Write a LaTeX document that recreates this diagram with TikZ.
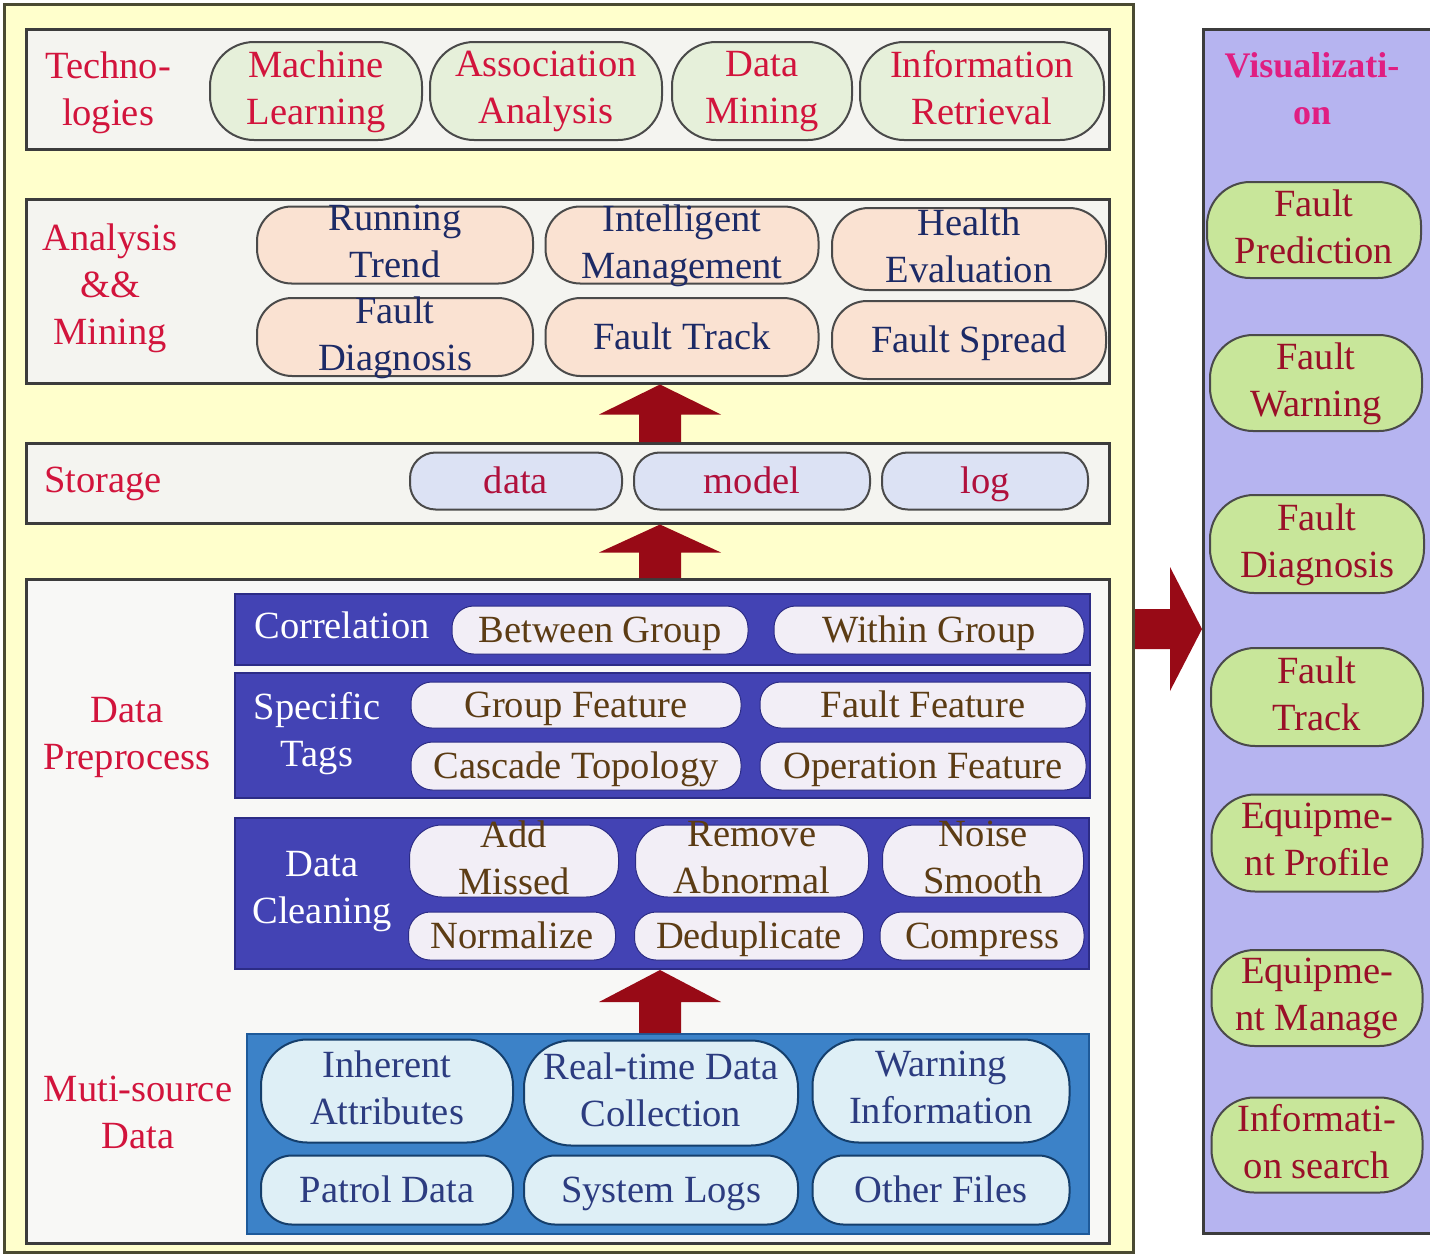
\documentclass[tikz,border=0pt]{standalone}
\usepackage{fontspec}
\setmainfont{Liberation Serif}
\usetikzlibrary{calc}
\definecolor{outerfill}{HTML}{FFFFCC}
\definecolor{outerline}{HTML}{4A4A32}
\definecolor{boxfill}{HTML}{F4F4F0}
\definecolor{boxline}{HTML}{3C3C3C}
\definecolor{nodeline}{HTML}{4A4A4A}
\definecolor{labred}{HTML}{D2143C}
\definecolor{techfill}{HTML}{E6F0DA}
\definecolor{analfill}{HTML}{FAE2D2}
\definecolor{analtext}{HTML}{1C2A66}
\definecolor{storfill}{HTML}{DCE2F4}
\definecolor{stortext}{HTML}{B0103C}
\definecolor{bandfill}{HTML}{4343B4}
\definecolor{bandline}{HTML}{2C2C86}
\definecolor{bnodefill}{HTML}{F2EEF6}
\definecolor{bnodetext}{HTML}{5C3C14}
\definecolor{multifill}{HTML}{3C82C8}
\definecolor{multiline}{HTML}{1E5A9A}
\definecolor{mnodefill}{HTML}{DEEFF6}
\definecolor{mnodetext}{HTML}{2C3C80}
\definecolor{visfill}{HTML}{B6B4F0}
\definecolor{vistitle}{HTML}{E01E82}
\definecolor{visnodefill}{HTML}{C8E69A}
\definecolor{visnodetext}{HTML}{9A1028}
\definecolor{arrowred}{HTML}{980A16}
% name, shape style, text style, x, y, w, h, text
\newcommand\pill[8]{%
  \node[#2, minimum width=#6, minimum height=#7, rounded corners={0.45*#7}] (#1) at (#4,#5) {};
  \node[#3] at (#1.center) {#8};}
% vertical block arrow: tip coordinate, base coordinate, head length
\newcommand\blockup[3]{%
  \fill[arrowred] (#1) -- ($(#1)+(61,#3)$) -- ($(#1)+(21,#3)$) -- ($(#2)+(21,0)$)
    -- ($(#2)+(-21,0)$) -- ($(#1)+(-21,#3)$) -- ($(#1)+(-61,#3)$) -- cycle;}
\tikzset{
  every node/.style={font=\fontsize{38.5}{47}\selectfont},
  box/.style={draw=boxline, line width=2.5pt, fill=boxfill, inner sep=0pt, anchor=north west},
  band/.style={draw=bandline, line width=2pt, fill=bandfill, inner sep=0pt, anchor=north west},
  mband/.style={draw=multiline, line width=2pt, fill=multifill, inner sep=0pt, anchor=north west},
  shp/.style={draw=nodeline, line width=2pt, inner sep=0pt},
  tech/.style={shp, fill=techfill},
  anal/.style={shp, fill=analfill},
  stor/.style={shp, fill=storfill},
  bnode/.style={draw=bandline, line width=1pt, fill=bnodefill, inner sep=0pt},
  mnode/.style={draw=multiline!70!black, line width=2pt, fill=mnodefill, inner sep=0pt},
  vnode/.style={shp, fill=visnodefill},
  txt/.style={align=center, inner sep=0pt, yshift=-3.5pt, execute at begin node=\strut, execute at end node=\strut},
  redtxt/.style={txt, text=labred},
  analtxt/.style={txt, text=analtext},
  stortxt/.style={txt, text=stortext},
  bandlab/.style={txt, text=white},
  btxt/.style={txt, text=bnodetext},
  mtxt/.style={txt, text=mnodetext},
  vtxt/.style={txt, text=visnodetext},
}
\begin{document}
\begin{tikzpicture}[x=1pt,y=-1pt]
\useasboundingbox (0,0) rectangle (1430,1254);
\fill[white] (0,0) rectangle (1430,1254);

% outer yellow frame
\node[draw=outerline, line width=3pt, fill=outerfill, inner sep=0pt, anchor=north west,
      minimum width=1129, minimum height=1248] (outer) at (3,3) {};

% ---------- Technologies ----------
\node[box, minimum width=1083, minimum height=120] (techbox) at (25,28) {};
\node[redtxt] (techlab) at (108,92) {Techno-\\logies};
\pill{ml}{tech}{redtxt}{316}{91}{212}{98}{Machine\\Learning}
\pill{aa}{tech}{redtxt}{546}{91}{232}{98}{Association\\Analysis}
\pill{dm}{tech}{redtxt}{762}{91}{180}{98}{Data\\Mining}
\pill{ir}{tech}{redtxt}{982}{91}{244}{98}{Information\\Retrieval}

% ---------- Analysis && Mining ----------
\node[box, minimum width=1083, minimum height=184] (analysis) at (25,198) {};
\node[redtxt] (anallab) at (110,288) {Analysis\\\&\&\\Mining};
\pill{rt}{anal}{analtxt}{395}{245}{276}{77}{Running\\Trend}
\pill{im}{anal}{analtxt}{682}{245}{273}{77}{Intelligent\\Management}
\pill{he}{anal}{analtxt}{969}{249}{274}{82}{Health\\Evaluation}
\pill{fd}{anal}{analtxt}{395}{337}{276}{78}{Fault\\Diagnosis}
\pill{ft}{anal}{analtxt}{682}{337}{273}{78}{Fault Track}
\pill{fs}{anal}{analtxt}{969}{340}{274}{78}{Fault Spread}

% ---------- Storage ----------
\node[box, minimum width=1083, minimum height=80] (storage) at (25,442) {};
\node[redtxt] (storlab) at (103,480) {Storage};
\pill{sdata}{stor}{stortxt}{516}{481}{212}{57}{data}
\pill{smodel}{stor}{stortxt}{752}{481}{236}{57}{model}
\pill{slog}{stor}{stortxt}{985}{481}{206}{57}{log}

% ---------- Data Preprocess ----------
\node[box, fill=boxfill!60!white, minimum width=1083, minimum height=664] (prep) at (25,578) {};
\node[redtxt] (preplab) at (127,737) {Data\\Preprocess};

\node[band, minimum width=855, minimum height=71] (corr) at (234,593) {};
\node[bandlab] (corrlab) at (342,626) {Correlation};
\pill{bg}{bnode}{btxt}{600}{630}{296}{48}{Between Group}
\pill{wg}{bnode}{btxt}{929}{630}{310}{48}{Within Group}

\node[band, minimum width=855, minimum height=125] (tags) at (234,672) {};
\node[bandlab] (tagslab) at (317,733) {Specific\\Tags};
\pill{gf}{bnode}{btxt}{576}{705}{330}{46}{Group Feature}
\pill{ff}{bnode}{btxt}{923}{705}{326}{46}{Fault Feature}
\pill{ct}{bnode}{btxt}{576}{766}{330}{48}{Cascade Topology}
\pill{of}{bnode}{btxt}{923}{766}{326}{48}{Operation Feature}

\node[band, minimum width=854, minimum height=151] (clean) at (234,817) {};
\node[bandlab] (cleanlab) at (322,891) {Data\\Cleaning};
\pill{am}{bnode}{btxt}{514}{861}{209}{72}{Add\\Missed}
\pill{ra}{bnode}{btxt}{752}{861}{233}{72}{Remove\\Abnormal}
\pill{ns}{bnode}{btxt}{983}{861}{201}{72}{Noise\\Smooth}
\pill{nm}{bnode}{btxt}{512}{936}{207}{48}{Normalize}
\pill{dd}{bnode}{btxt}{749}{936}{229}{48}{Deduplicate}
\pill{cp}{bnode}{btxt}{982}{936}{204}{48}{Compress}

% ---------- Multi-source data ----------
\node[redtxt] (multilab) at (138,1116) {Muti-source\\Data};
\node[mband, minimum width=842, minimum height=200] (multi) at (246,1033) {};
\pill{ia}{mnode}{mtxt}{387}{1091}{252}{103}{Inherent\\Attributes}
\pill{rd}{mnode}{mtxt}{661}{1093}{274}{105}{Real-time Data\\Collection}
\pill{wi}{mnode}{mtxt}{941}{1091}{257}{103}{Warning\\Information}
\pill{pd}{mnode}{mtxt}{387}{1190}{252}{69}{Patrol Data}
\pill{sl}{mnode}{mtxt}{661}{1190}{274}{69}{System Logs}
\pill{ofl}{mnode}{mtxt}{941}{1190}{257}{69}{Other Files}

% ---------- Visualization ----------
\node[draw=boxline, line width=2.5pt, fill=visfill, inner sep=0pt, anchor=north west,
      minimum width=232, minimum height=1204] (vis) at (1202,28) {};
\node[txt, text=vistitle, font=\fontsize{36}{47}\selectfont\bfseries] (vistit) at (1312,92) {Visualizati-\\on};
\pill{vfp}{vnode}{vtxt}{1314}{230}{214}{96}{Fault\\Prediction}
\pill{vfw}{vnode}{vtxt}{1316}{383}{212}{96}{Fault\\Warning}
\pill{vfd}{vnode}{vtxt}{1317}{544}{214}{98}{Fault\\Diagnosis}
\pill{vft}{vnode}{vtxt}{1317}{697}{212}{98}{Fault\\Track}
\pill{vep}{vnode}{vtxt}{1317}{843}{211}{97}{Equipme-\\nt Profile}
\pill{vem}{vnode}{vtxt}{1317}{998}{211}{96}{Equipme-\\nt Manage}
\pill{vis2}{vnode}{vtxt}{1317}{1145}{211}{95}{Informati-\\on search}

% ---------- block arrows ----------
\coordinate (ax) at (660,0);
\blockup{analysis.south -| ax}{storage.north -| ax}{30}
\blockup{storage.south -| ax}{prep.north -| ax}{28}
\blockup{clean.south -| ax}{multi.north -| ax}{32}
\coordinate (ay) at (0,629);
\coordinate (rtip) at (vis.west |- ay);
\coordinate (rbase) at (outer.east |- ay);
\fill[arrowred] (rtip) -- ($(rtip)+(-32,-62)$) -- ($(rtip)+(-32,-20)$) -- ($(rbase)+(0,-20)$)
  -- ($(rbase)+(0,20)$) -- ($(rtip)+(-32,20)$) -- ($(rtip)+(-32,62)$) -- cycle;
\end{tikzpicture}
\end{document}
